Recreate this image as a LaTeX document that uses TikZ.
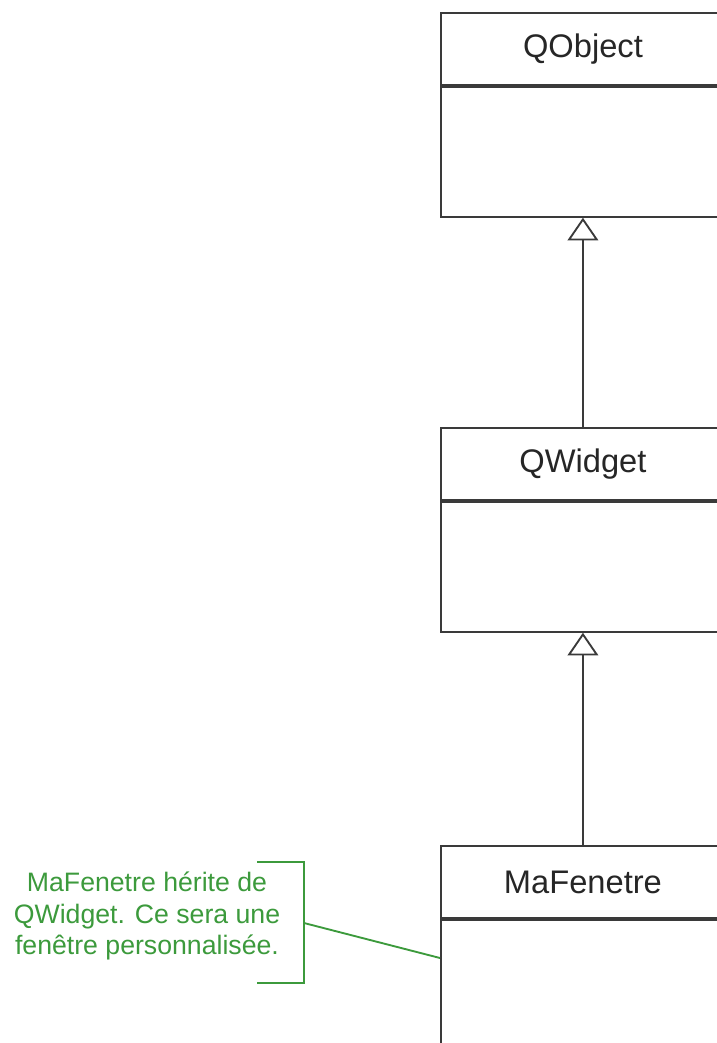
\documentclass[tikz,border=0pt]{standalone}
\usepackage{fontspec}
\setmainfont{Liberation Sans}
\usetikzlibrary{arrows.meta, positioning}
\definecolor{umlline}{HTML}{3A3A3A}
\definecolor{notegreen}{HTML}{3C9A3C}

\begin{document}
\begin{tikzpicture}[x=0.75pt, y=-0.75pt,
    classname/.style={draw=umlline, line width=1.4pt, minimum width=213pt, minimum height=54pt, inner sep=0pt, anchor=north west, font=\fontsize{24.5}{28}\selectfont, text=black!85},
    classbody/.style={draw=umlline, line width=1.4pt, minimum width=213pt, minimum height=97.5pt, inner sep=0pt},
    inherit/.style={-{Triangle[open, length=17pt, width=23pt]}, line width=1.4pt, color=umlline},
    note/.style={align=center, text=notegreen, font=\fontsize{20}{23.6}\selectfont},
    notebracket/.style={draw=notegreen, line width=1.4pt}
]
\useasboundingbox (0,0) rectangle (717,1043);
\clip (0,0) rectangle (717,1043);

% classes
\node[classname] (qobject) at (440,12) {QObject};
\node[classbody, below=0pt of qobject] (qobjectbody) {};
\node[classname] (qwidget) at (440,427) {QWidget};
\node[classbody, below=0pt of qwidget] (qwidgetbody) {};
\node[classname] (mafenetre) at (440,845) {MaFenetre};
\node[classbody, below=0pt of mafenetre] (mafenetrebody) {};

\draw[inherit] (qwidget.north) -- (qobjectbody.south);
\draw[inherit] (mafenetre.north) -- (qwidgetbody.south);

% comment
\node[note] (remark) at (147,916) {MaFenetre hérite de\\QWidget. Ce sera une\\fenêtre personnalisée.};
\draw[notebracket] (257,862) -- (304,862) -- (304,983) -- (257,983);
\coordinate (remarktip) at (304,923);
\coordinate (remarkend) at (440,958);
\draw[notebracket] (remarktip) -- (remarkend);
\end{tikzpicture}
\end{document}
